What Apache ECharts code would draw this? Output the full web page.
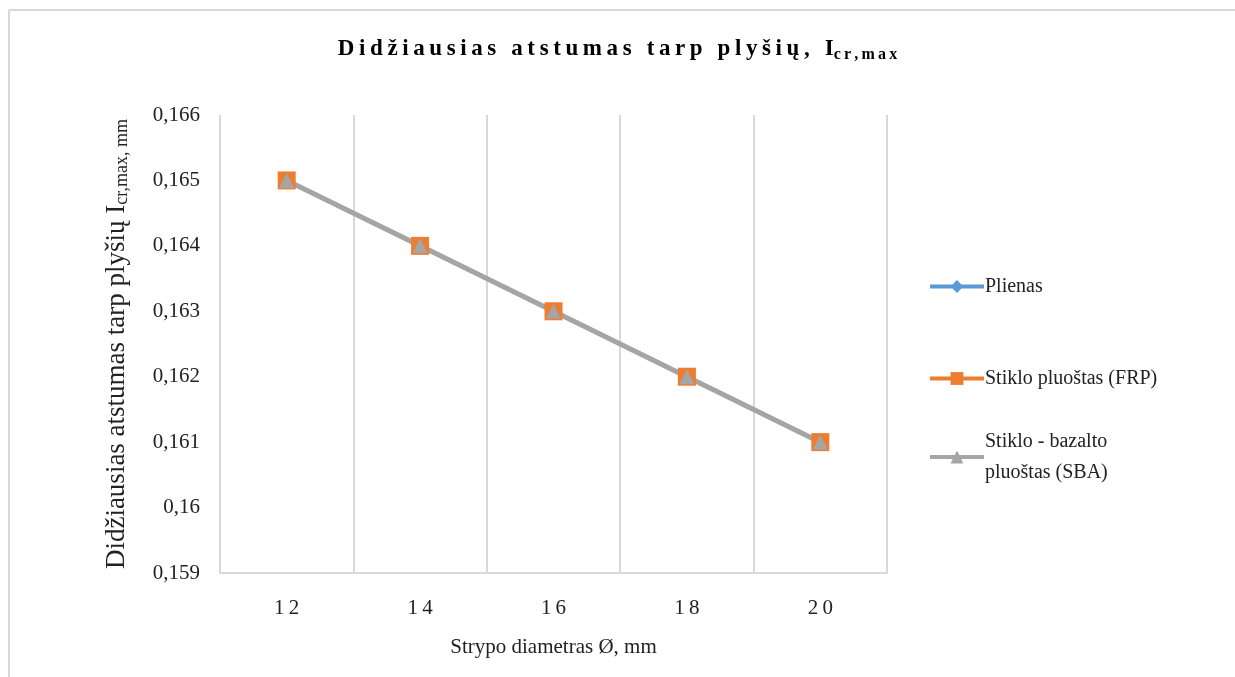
<!DOCTYPE html>
<html>
<head>
<meta charset="utf-8">
<script src="https://cdn.jsdelivr.net/npm/echarts@6/dist/echarts.min.js"></script>
<style>
  html, body { margin: 0; padding: 0; background: #fff; }
  #main { width: 1235px; height: 677px; }
</style>
</head>
<body>
<div id="main"></div>
<script>
var diameters = ['12', '14', '16', '18', '20'];
var plienas = [0.165, 0.164, 0.163, 0.162, 0.161];
var stikloFrp = [0.165, 0.164, 0.163, 0.162, 0.161];
var stikloSba = [0.165, 0.164, 0.163, 0.162, 0.161];

var seriesNames = ['Plienas', 'Stiklo pluoštas (FRP)', 'Stiklo - bazalto pluoštas (SBA)'];
var seriesColors = ['#5b9bd5', '#ed7d31', '#a5a5a5'];
var seriesSymbols = ['diamond', 'rect', 'triangle'];

var serif = '"Liberation Serif", "Times New Roman", serif';

// spread letters a bit, like the original title
function spaced(s) {
  return s.split('').join('\u2009');
}

// one legend block per series so each can sit where the original has it
function legendAt(name, top) {
  return {
    orient: 'vertical',
    left: 923,
    top: top,
    itemWidth: 54,
    itemHeight: 16,
    data: [name],
    formatter: function (n) {
      return n.replace('bazalto ', 'bazalto\n');
    },
    lineStyle: { width: 4 },
    textStyle: { fontFamily: serif, fontSize: 20, color: '#222', lineHeight: 31, padding: [0, 0, 0, -4] }
  };
}

var chart = echarts.init(document.getElementById('main'));

var series = [plienas, stikloFrp, stikloSba].map(function (vals, i) {
  return {
    name: seriesNames[i],
    type: 'line',
    data: vals,
    symbol: seriesSymbols[i],
    symbolSize: [16, 18, 15][i],
    color: seriesColors[i],
    lineStyle: { width: i === 2 ? 5 : 4, color: seriesColors[i] },
    itemStyle: { color: seriesColors[i] }
  };
});

var option = {
  backgroundColor: '#fff',
  animation: false,
  title: {
    text: '{m|' + spaced('Didžiausias atstumas tarp plyšių, I') + '}{s|' + spaced('cr,max') + '}',
    left: 'center',
    top: 30,
    textStyle: {
      rich: {
        m: { fontFamily: serif, fontSize: 23, fontWeight: 'bold', color: '#000', lineHeight: 28 },
        s: { fontFamily: serif, fontSize: 16, fontWeight: 'bold', color: '#000', lineHeight: 28, padding: [11, 0, 0, 0] }
      }
    }
  },
  graphic: [
    { type: 'line', shape: { x1: 9, y1: 10, x2: 1235, y2: 10 }, style: { stroke: '#d9d9d9', lineWidth: 2 } },
    { type: 'line', shape: { x1: 9, y1: 10, x2: 9, y2: 677 }, style: { stroke: '#d9d9d9', lineWidth: 2 } }
  ],
  legend: [
    legendAt(seriesNames[0], 266),
    legendAt(seriesNames[1], 358),
    legendAt(seriesNames[2], 421)
  ],
  grid: {
    left: 220,
    right: 348,
    top: 115,
    bottom: 104
  },
  xAxis: {
    type: 'category',
    data: diameters,
    boundaryGap: true,
    name: 'Strypo diametras Ø, mm',
    nameLocation: 'middle',
    nameGap: 64,
    nameTextStyle: { fontFamily: serif, fontSize: 21, color: '#222' },
    axisLine: { lineStyle: { color: '#d9d9d9', width: 2 } },
    axisTick: { show: false },
    axisLabel: {
      fontFamily: serif,
      fontSize: 21,
      color: '#222',
      margin: 25,
      formatter: function (v) { return spaced(v); }
    },
    splitLine: { show: true, lineStyle: { color: '#d9d9d9', width: 2 } }
  },
  yAxis: {
    type: 'value',
    min: 0.159,
    max: 0.166,
    interval: 0.001,
    name: '{n|Didžiausias atstumas tarp plyšių I}{s|cr,max, mm}',
    nameLocation: 'middle',
    nameGap: 88,
    nameTextStyle: {
      rich: {
        n: { fontFamily: serif, fontSize: 27, color: '#222', lineHeight: 30 },
        s: { fontFamily: serif, fontSize: 18, color: '#222', lineHeight: 30, padding: [10, 0, 0, 0] }
      }
    },
    axisLine: { show: false },
    axisTick: { show: false },
    splitLine: { show: false },
    axisLabel: {
      fontFamily: serif,
      fontSize: 21,
      color: '#222',
      margin: 20,
      formatter: function (v) {
        return String(Math.round(v * 1000) / 1000).replace('.', ',');
      }
    }
  },
  series: series
};

chart.setOption(option);
</script>
</body>
</html>
